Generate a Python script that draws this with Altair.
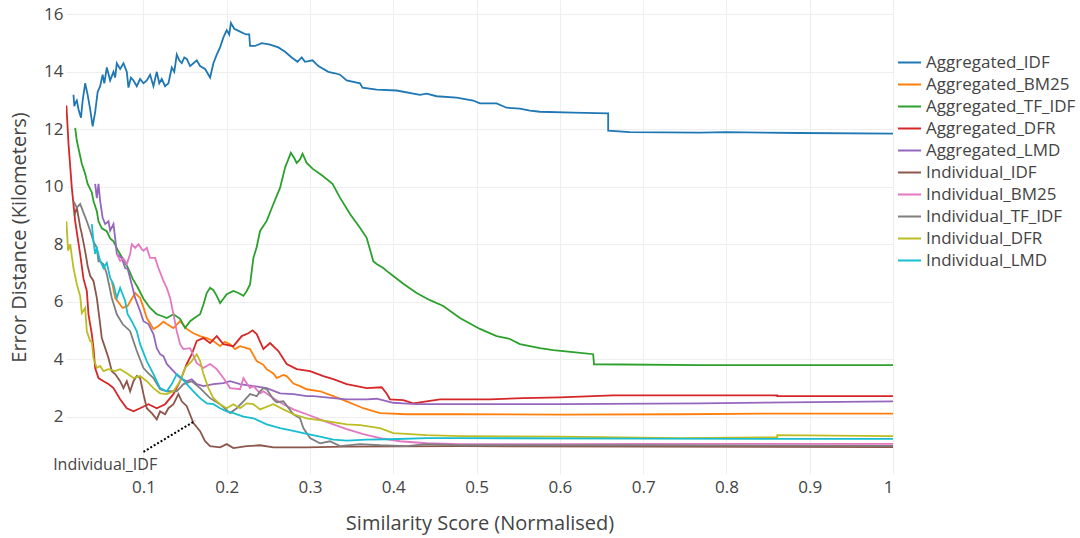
import altair as alt
import pandas as pd

# Series order, colours and names
METHODS = [
    "Aggregated_IDF", "Aggregated_BM25", "Aggregated_TF_IDF", "Aggregated_DFR", "Aggregated_LMD",
    "Individual_IDF", "Individual_BM25", "Individual_TF_IDF", "Individual_DFR", "Individual_LMD",
]
COLORS = ["#1f77b4", "#ff7f0e", "#2ca02c", "#d62728", "#9467bd",
          "#8c564b", "#e377c2", "#7f7f7f", "#bcbd22", "#17becf"]

X_TICKS = [0.1, 0.2, 0.3, 0.4, 0.5, 0.6, 0.7, 0.8, 0.9, 1.0]
Y_TICKS = [2, 4, 6, 8, 10, 12, 14, 16]

agg_idf_x = [0.016, 0.017, 0.018, 0.020, 0.022, 0.025, 0.027, 0.030, 0.033, 0.036, 0.039, 0.042, 0.045,
             0.048, 0.051, 0.053, 0.056, 0.060, 0.064, 0.066, 0.068, 0.072, 0.076, 0.080, 0.082, 0.085,
             0.088, 0.092, 0.096, 0.100, 0.104, 0.108, 0.112, 0.116, 0.119, 0.122, 0.126, 0.130, 0.134,
             0.137, 0.140, 0.143, 0.146, 0.149, 0.152, 0.156, 0.160, 0.164, 0.168, 0.174,
             0.180, 0.184, 0.188, 0.192, 0.196, 0.200, 0.203, 0.205, 0.209, 0.216, 0.223, 0.227, 0.228,
             0.234, 0.242, 0.252, 0.262, 0.270, 0.278, 0.285, 0.290, 0.294, 0.303, 0.310, 0.322, 0.330,
             0.336, 0.344, 0.360, 0.363, 0.380, 0.404, 0.432, 0.440, 0.452, 0.476, 0.496, 0.504, 0.524,
             0.536, 0.552, 0.564, 0.576, 0.616, 0.658, 0.658, 0.684, 0.768, 0.800, 0.888, 1.0]
agg_idf_y = [13.2, 12.8, 12.9, 13.0, 12.7, 12.4, 13.0, 13.6, 13.2, 12.7, 12.1, 12.6, 13.3,
             13.5, 13.9, 13.6, 14.15, 13.7, 14.0, 13.8, 14.3, 14.1, 14.3, 14.0, 13.45, 13.8,
             13.7, 13.5, 13.75, 13.6, 13.7, 13.9, 13.5, 14.0, 13.6, 13.75, 13.5, 13.6, 14.15,
             14.0, 14.6, 14.4, 14.3, 14.5, 14.45, 14.2, 14.3, 14.4, 14.2, 14.1,
             13.8, 14.3, 14.6, 14.85, 15.2, 15.45, 15.3, 15.7, 15.5, 15.4, 15.3, 15.3, 14.9,
             14.9, 15.0, 14.95, 14.85, 14.7, 14.5, 14.35, 14.5, 14.35, 14.4, 14.2, 14.0, 13.95,
             13.9, 13.7, 13.6, 13.45, 13.38, 13.35, 13.2, 13.24, 13.15, 13.1, 13.0, 12.9, 12.9,
             12.75, 12.72, 12.65, 12.61, 12.58, 12.55, 11.95, 11.9, 11.88, 11.9, 11.87, 11.85]

agg_bm25_x = [0.062, 0.066, 0.072, 0.075, 0.081, 0.086, 0.090, 0.096, 0.100, 0.104, 0.112, 0.118,
              0.124, 0.128, 0.136, 0.144, 0.152, 0.160, 0.168, 0.176, 0.184, 0.192, 0.198, 0.204,
              0.210, 0.216, 0.222, 0.228, 0.236, 0.244, 0.248, 0.256, 0.260, 0.268, 0.272, 0.280,
              0.288, 0.296, 0.312, 0.328, 0.344, 0.364, 0.384, 0.416, 0.480, 0.600, 0.744, 0.850, 1.0]
agg_bm25_y = [6.72, 6.13, 5.9, 5.78, 5.85, 6.1, 6.3, 6.13, 5.8, 5.43, 5.05, 5.15,
              5.3, 5.22, 5.08, 5.32, 5.05, 4.9, 4.8, 4.73, 4.63, 4.45, 4.6, 4.52,
              4.35, 4.45, 4.4, 4.35, 3.93, 3.8, 3.65, 3.5, 3.34, 3.45, 3.41, 3.15,
              3.06, 2.95, 2.88, 2.71, 2.53, 2.29, 2.12, 2.08, 2.08, 2.07, 2.08, 2.1, 2.1]

agg_tfidf_x = [0.018, 0.020, 0.023, 0.026, 0.030, 0.033, 0.038, 0.040, 0.044, 0.046, 0.050, 0.056,
               0.060, 0.064, 0.069, 0.075, 0.081, 0.087, 0.093, 0.100, 0.108, 0.116, 0.122, 0.128,
               0.136, 0.144, 0.150, 0.156, 0.162, 0.168, 0.172, 0.176, 0.180, 0.184, 0.188, 0.192,
               0.196, 0.200, 0.208, 0.214, 0.220, 0.224, 0.228, 0.232, 0.236, 0.240, 0.248, 0.256,
               0.264, 0.270, 0.277, 0.281, 0.284, 0.288, 0.291, 0.296, 0.303, 0.315, 0.327, 0.336,
               0.348, 0.360, 0.368, 0.376, 0.380, 0.388, 0.392, 0.400, 0.412, 0.428, 0.444, 0.460,
               0.480, 0.504, 0.524, 0.540, 0.552, 0.576, 0.592, 0.616, 0.640, 0.641, 0.768, 1.0]
agg_tfidf_y = [12.05, 11.6, 11.2, 10.8, 10.45, 10.1, 9.8, 9.5, 9.15, 8.8, 8.55, 8.45,
               8.2, 8.1, 7.8, 7.5, 7.2, 6.8, 6.5, 6.1, 5.78, 5.56, 5.5, 5.43,
               5.56, 5.4, 5.08, 5.32, 5.45, 5.56, 5.9, 6.3, 6.48, 6.4, 6.2, 5.95,
               6.1, 6.26, 6.37, 6.3, 6.2, 6.37, 6.6, 7.52, 7.9, 8.46, 8.81, 9.4,
               9.96, 10.66, 11.18, 11.0, 10.83, 10.95, 11.15, 10.83, 10.63, 10.38, 10.1, 9.62,
               9.05, 8.57, 8.22, 7.41, 7.31, 7.17, 7.07, 6.89, 6.62, 6.3, 6.05, 5.85,
               5.43, 5.05, 4.8, 4.7, 4.52, 4.38, 4.31, 4.24, 4.17, 3.82, 3.79, 3.79]

agg_dfr_x = [0.0075, 0.010, 0.014, 0.018, 0.024, 0.028, 0.032, 0.034, 0.038, 0.040, 0.042, 0.046,
             0.052, 0.058, 0.064, 0.072, 0.080, 0.088, 0.096, 0.106, 0.116, 0.126, 0.136, 0.144,
             0.152, 0.158, 0.164, 0.172, 0.180, 0.188, 0.196, 0.208, 0.218, 0.226, 0.231, 0.236,
             0.244, 0.252, 0.262, 0.272, 0.284, 0.300, 0.316, 0.328, 0.344, 0.368, 0.386, 0.392,
             0.396, 0.412, 0.424, 0.456, 0.516, 0.556, 0.600, 0.664, 0.768, 0.861, 0.861, 1.0]
agg_dfr_y = [12.83, 11.5, 9.96, 8.8, 7.65, 6.8, 6.37, 5.56, 4.87, 4.39, 3.69, 3.34,
             3.23, 3.13, 2.99, 2.6, 2.29, 2.18, 2.29, 2.43, 2.29, 2.43, 2.78, 3.23,
             3.83, 4.17, 4.63, 4.73, 4.56, 4.8, 4.52, 4.45, 4.8, 4.9, 5.0, 4.87,
             4.35, 4.56, 4.28, 3.83, 3.65, 3.58, 3.41, 3.3, 3.13, 2.99, 3.02, 2.8,
             2.6, 2.57, 2.46, 2.6, 2.6, 2.64, 2.67, 2.74, 2.74, 2.74, 2.71, 2.71]

agg_lmd_x = [0.042, 0.044, 0.046, 0.048, 0.051, 0.054, 0.058, 0.060, 0.064, 0.066, 0.068, 0.074,
             0.078, 0.081, 0.086, 0.090, 0.096, 0.100, 0.106, 0.112, 0.116, 0.120, 0.124, 0.128,
             0.136, 0.144, 0.152, 0.158, 0.164, 0.172, 0.184, 0.196, 0.204, 0.216, 0.232, 0.248,
             0.264, 0.280, 0.296, 0.304, 0.328, 0.344, 0.368, 0.380, 0.400, 0.412, 0.428, 0.480,
             0.600, 0.768, 1.0]
agg_lmd_y = [10.1, 9.6, 10.1, 9.5, 8.92, 8.7, 8.8, 8.47, 8.7, 8.22, 7.66, 7.52,
             7.17, 7.14, 6.6, 6.13, 5.67, 5.32, 5.22, 4.87, 4.38, 4.17, 4.1, 3.83,
             3.58, 3.34, 3.23, 3.3, 3.13, 3.06, 3.13, 3.16, 3.23, 3.13, 3.06, 2.99,
             2.81, 2.78, 2.71, 2.71, 2.64, 2.6, 2.6, 2.62, 2.48, 2.46, 2.43, 2.43,
             2.43, 2.46, 2.53]

ind_idf_x = [0.017, 0.020, 0.024, 0.026, 0.030, 0.033, 0.036, 0.040, 0.044, 0.048, 0.050, 0.054,
             0.058, 0.062, 0.066, 0.072, 0.076, 0.080, 0.084, 0.088, 0.092, 0.096, 0.100, 0.104,
             0.110, 0.116, 0.120, 0.126, 0.130, 0.136, 0.142, 0.146, 0.152, 0.160, 0.168, 0.174,
             0.180, 0.192, 0.200, 0.208, 0.224, 0.240, 0.256, 0.296, 0.340, 0.480, 0.700, 1.0]
ind_idf_y = [9.0, 9.27, 8.6, 8.35, 7.76, 7.24, 6.9, 6.72, 6.13, 5.22, 4.73, 4.39,
             4.04, 3.58, 3.48, 3.23, 2.99, 3.23, 2.88, 3.23, 3.41, 3.34, 2.78, 2.29,
             2.12, 1.9, 2.18, 2.08, 2.29, 2.43, 2.78, 2.53, 2.36, 1.77, 1.49, 1.14,
             0.97, 0.93, 1.04, 0.90, 0.97, 1.0, 0.93, 0.93, 0.95, 0.97, 0.95, 0.94]

ind_bm25_x = [0.068, 0.072, 0.076, 0.080, 0.084, 0.086, 0.090, 0.094, 0.098, 0.100, 0.104, 0.108,
              0.114, 0.118, 0.124, 0.128, 0.132, 0.136, 0.140, 0.144, 0.148, 0.156, 0.164, 0.172,
              0.180, 0.188, 0.196, 0.204, 0.216, 0.220, 0.224, 0.228, 0.232, 0.240, 0.244, 0.256,
              0.268, 0.280, 0.296, 0.312, 0.328, 0.344, 0.364, 0.384, 0.408, 0.440, 0.480, 0.592,
              0.700, 1.0]
ind_bm25_y = [7.66, 7.42, 7.5, 7.3, 7.66, 8.0, 7.87, 8.0, 7.83, 7.77, 7.87, 7.52,
              7.52, 7.17, 6.72, 6.48, 6.13, 5.56, 4.97, 4.52, 4.35, 4.38, 3.86, 3.69,
              3.83, 3.65, 3.34, 2.99, 2.95, 3.34, 3.16, 2.99, 3.06, 2.81, 2.88, 2.64,
              2.43, 2.25, 2.08, 1.9, 1.73, 1.56, 1.39, 1.25, 1.14, 1.07, 1.04, 1.04,
              1.05, 1.05]

ind_tfidf_x = [0.016, 0.020, 0.024, 0.028, 0.032, 0.036, 0.040, 0.044, 0.046, 0.048, 0.052, 0.056,
               0.062, 0.068, 0.075, 0.084, 0.092, 0.100, 0.106, 0.112, 0.120, 0.128, 0.140, 0.148,
               0.158, 0.168, 0.180, 0.192, 0.204, 0.212, 0.220, 0.228, 0.236, 0.240, 0.244, 0.248,
               0.252, 0.256, 0.260, 0.268, 0.280, 0.288, 0.292, 0.300, 0.312, 0.324, 0.336, 0.360,
               0.384, 0.416, 0.440, 0.480, 0.700, 1.0]
ind_tfidf_y = [9.5, 9.27, 9.4, 9.1, 8.8, 8.47, 8.1, 7.87, 7.4, 7.4, 7.3, 6.96,
               6.13, 5.56, 5.22, 4.97, 4.28, 3.69, 3.5, 3.34, 2.95, 2.88, 2.88, 3.13,
               3.23, 2.99, 2.64, 2.43, 2.12, 2.29, 2.53, 2.78, 2.71, 2.88, 2.99, 2.95,
               2.78, 2.6, 2.5, 2.53, 2.08, 1.94, 1.6, 1.25, 1.07, 1.14, 0.97, 1.04,
               1.0, 0.97, 1.04, 1.0, 1.0, 0.98]

ind_dfr_x = [0.0075, 0.0095, 0.012, 0.016, 0.020, 0.024, 0.026, 0.030, 0.032, 0.036, 0.038, 0.040,
             0.044, 0.048, 0.052, 0.058, 0.066, 0.072, 0.080, 0.088, 0.096, 0.104, 0.112, 0.120,
             0.128, 0.136, 0.144, 0.150, 0.158, 0.164, 0.168, 0.172, 0.178, 0.184, 0.192, 0.200,
             0.208, 0.216, 0.224, 0.232, 0.240, 0.256, 0.268, 0.280, 0.296, 0.320, 0.344, 0.360,
             0.384, 0.400, 0.440, 0.480, 0.600, 0.744, 0.861, 0.861, 1.0]
ind_dfr_y = [8.8, 7.77, 8.0, 7.17, 6.6, 6.2, 5.6, 5.78, 4.97, 4.63, 4.6, 4.04,
             3.69, 3.76, 3.58, 3.65, 3.58, 3.65, 3.51, 3.34, 3.41, 3.23, 2.99, 2.81,
             2.78, 2.88, 3.23, 3.69, 3.93, 4.17, 3.93, 3.48, 2.99, 2.64, 2.43, 2.29,
             2.43, 2.29, 2.46, 2.43, 2.25, 2.43, 2.25, 2.08, 1.94, 1.84, 1.73, 1.70,
             1.6, 1.42, 1.35, 1.32, 1.3, 1.25, 1.28, 1.35, 1.32]

ind_lmd_x = [0.038, 0.040, 0.042, 0.044, 0.048, 0.052, 0.056, 0.060, 0.064, 0.068, 0.072, 0.078,
             0.081, 0.086, 0.092, 0.096, 0.104, 0.112, 0.120, 0.128, 0.134, 0.140, 0.146, 0.152,
             0.160, 0.168, 0.176, 0.184, 0.192, 0.200, 0.208, 0.220, 0.232, 0.248, 0.264, 0.280,
             0.296, 0.312, 0.328, 0.344, 0.368, 0.396, 0.440, 0.480, 0.700, 1.0]
ind_lmd_y = [8.7, 8.1, 7.66, 7.87, 7.42, 7.17, 7.35, 6.83, 6.6, 6.13, 6.48, 6.03,
             5.56, 5.32, 4.97, 4.52, 3.93, 3.48, 2.99, 2.88, 3.13, 3.48, 3.34, 3.13,
             2.88, 2.64, 2.46, 2.43, 2.29, 2.18, 2.12, 2.0, 1.94, 1.73, 1.6, 1.5,
             1.4, 1.3, 1.2, 1.16, 1.2, 1.21, 1.25, 1.25, 1.23, 1.22]

SERIES = [
    (agg_idf_x, agg_idf_y), (agg_bm25_x, agg_bm25_y), (agg_tfidf_x, agg_tfidf_y),
    (agg_dfr_x, agg_dfr_y), (agg_lmd_x, agg_lmd_y), (ind_idf_x, ind_idf_y),
    (ind_bm25_x, ind_bm25_y), (ind_tfidf_x, ind_tfidf_y), (ind_dfr_x, ind_dfr_y),
    (ind_lmd_x, ind_lmd_y),
]

# Annotation: label under the plot with a dotted leader to the Individual_IDF curve
note_text = ["Individual_IDF"]
note_text_x = [0.054]
note_text_y = [0.31]
leader_x = [0.100]
leader_y = [0.77]
leader_x2 = [0.162]
leader_y2 = [1.85]

rows = []
for name, (xs, ys) in zip(METHODS, SERIES):
    for i, (xv, yv) in enumerate(zip(xs, ys)):
        rows.append({"method": name, "score": xv, "error": yv, "idx": i})
df = pd.DataFrame(rows)

FONT = "Open Sans"
TEXT = "#444444"

x_scale = alt.Scale(domain=[0.007, 1.0], nice=False, zero=False)
y_scale = alt.Scale(domain=[0, 16.5], nice=False, zero=False)

lines = alt.Chart(df).mark_line(strokeWidth=1.8, clip=True).encode(
    x=alt.X("score:Q", scale=x_scale,
            axis=alt.Axis(values=X_TICKS, format="~g", title="Similarity Score (Normalised)")),
    y=alt.Y("error:Q", scale=y_scale,
            axis=alt.Axis(values=Y_TICKS, format="d", title="Error Distance (Kilometers)")),
    color=alt.Color("method:N", sort=METHODS,
                    scale=alt.Scale(domain=METHODS, range=COLORS),
                    legend=alt.Legend(title=None, orient="none", legendX=831, legendY=50,
                                      symbolType="stroke", symbolSize=529, symbolStrokeWidth=2,
                                      labelFont=FONT, labelFontSize=17, labelColor=TEXT,
                                      labelOffset=4, rowPadding=1, padding=0, labelLimit=300)),
    order=alt.Order("idx:Q"),
)

leader_df = pd.DataFrame({"x": leader_x, "y": leader_y, "x2": leader_x2, "y2": leader_y2})
leader = alt.Chart(leader_df).mark_rule(color="black", strokeWidth=2, strokeDash=[2, 2]).encode(
    x=alt.X("x:Q", scale=x_scale), y=alt.Y("y:Q", scale=y_scale),
    x2="x2:Q", y2="y2:Q",
)

note_df = pd.DataFrame({"t": note_text, "x": note_text_x, "y": note_text_y})
note = alt.Chart(note_df).mark_text(font=FONT, fontSize=16, color=TEXT).encode(
    x=alt.X("x:Q", scale=x_scale), y=alt.Y("y:Q", scale=y_scale), text="t:N",
)

chart = alt.layer(lines, leader, note).properties(
    width=827, height=474,
    padding={"left": 66, "top": 0, "right": 187, "bottom": 64},
    autosize=alt.AutoSizeParams(type="none"),
    background="white",
).configure_view(stroke=None).configure_axis(
    grid=True, gridColor="#eeeeee", gridWidth=1, domain=False, ticks=False,
    labelFont=FONT, labelFontSize=17, labelColor=TEXT,
    titleFont=FONT, titleFontSize=20, titleFontWeight="normal", titleColor=TEXT,
).configure_axisX(labelPadding=5, titlePadding=18).configure_axisY(labelPadding=3, titlePadding=14)

chart.save("out.html", embed_options={"renderer": "svg", "actions": False})
